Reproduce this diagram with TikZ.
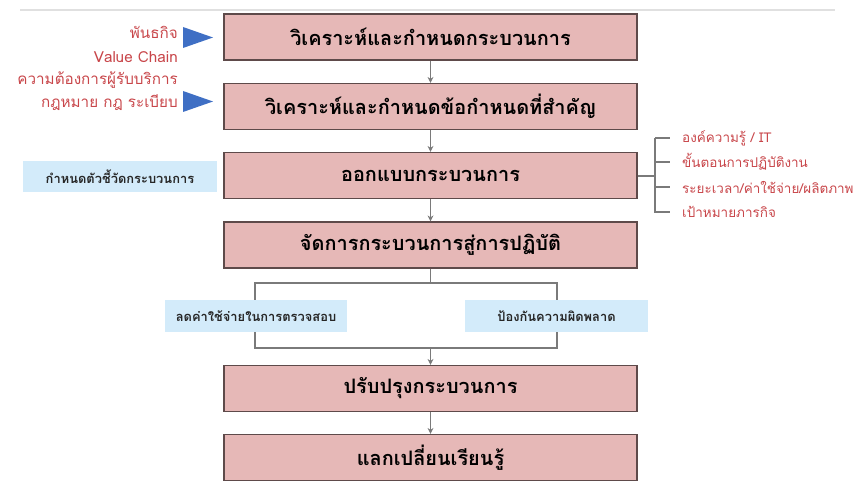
\documentclass[tikz,border=0pt]{standalone}
\usepackage{fontspec}
\setmainfont[Script=Thai]{Loma}
\usetikzlibrary{arrows.meta}

\definecolor{boxpink}{HTML}{E6B8B7}
\definecolor{boxline}{HTML}{5E4A4A}
\definecolor{notered}{HTML}{C8464A}
\definecolor{noteblue}{HTML}{D3EBFA}
\definecolor{tri}{HTML}{3F6FC4}
\definecolor{flowgray}{HTML}{7A7A7A}

\begin{document}
\begin{tikzpicture}[x=0.03cm, y=-0.03cm,
    stepbox/.style={draw=boxline, line width=1.2pt, fill=boxpink, minimum width=12.39cm,
        minimum height=1.38cm, inner sep=0pt, font=\fontsize{17}{19}\selectfont\bfseries},
    notebox/.style={fill=noteblue, minimum height=0.95cm, inner sep=0pt,
        font=\fontsize{11}{13}\selectfont\bfseries, text=black!85},
    redtext/.style={text=notered, inner sep=0pt, font=\fontsize{11.5}{13}\selectfont},
    flow/.style={draw=flowgray, line width=1pt, -{Stealth[length=5pt, width=5pt]}},
    link/.style={draw=flowgray, line width=1pt}]

    % the frame
    \useasboundingbox (0,0) rectangle (854,486);
    \draw[line width=2pt, black!12] (20,10) -- (835,10);

    % the body
    \foreach \n/\y/\t in {1/37/วิเคราะห์และกำหนดกระบวนการ,
                          2/106.5/วิเคราะห์และกำหนดข้อกำหนดที่สำคัญ,
                          3/175.5/ออกแบบกระบวนการ,
                          4/245/จัดการกระบวนการสู่การปฏิบัติ,
                          5/388.5/ปรับปรุงกระบวนการ,
                          6/457.5/แลกเปลี่ยนเรียนรู้} {
        \node[stepbox] (s\n) at (430.5, \y) {\t};
    }
    \foreach \i/\j in {1/2, 2/3, 3/4, 5/6} {
        \draw[flow] (s\i.south) -- (s\j.north);
    }

    % inputs
    \node[redtext, anchor=east, font=\fontsize{13}{15}\selectfont] (in1) at (178, 32) {พันธกิจ};
    \node[redtext, anchor=east, font=\fontsize{13}{15}\selectfont] (in2) at (178, 57) {Value Chain};
    \node[redtext, anchor=east, font=\fontsize{13}{15}\selectfont] (in3) at (178, 80) {ความต้องการผู้รับบริการ};
    \node[redtext, anchor=east, font=\fontsize{13}{15}\selectfont] (in4) at (178, 103) {กฎหมาย กฎ ระเบียบ};
    \fill[tri] (183, 27) -- (213, 37.5) -- (183, 48) -- cycle;
    \fill[tri] (183, 91) -- (213, 101.5) -- (183, 112) -- cycle;

    % indicators
    \node[notebox, minimum width=5.82cm] (kpi) at (120, 176.5) {กำหนดตัวชี้วัดกระบวนการ};

    % design items
    \coordinate (brace) at (655, 176);
    \draw[link] (s3.east |- brace) -- (brace);
    \draw[link] (655, 138) -- (655, 213);
    \node[redtext, anchor=west] (d1) at (682, 138) {องค์ความรู้ / IT};
    \node[redtext, anchor=west] (d2) at (682, 162) {ขั้นตอนการปฏิบัติงาน};
    \node[redtext, anchor=west] (d3) at (682, 187) {ระยะเวลา/ค่าใช้จ่าย/ผลิตภาพ};
    \node[redtext, anchor=west] (d4) at (682, 212) {เป้าหมายภารกิจ};
    \foreach \i in {1,...,4} {
        \draw[link] (brace |- d\i) -- ([xshift=-0.36cm]d\i.west);
    }

    % benefits
    \coordinate (split) at (430.5, 283);
    \coordinate (merge) at (430.5, 348);
    \draw[link] (s4.south) -- (split);
    \draw[link] (255, 283) rectangle (557, 348);
    \draw[flow] (merge) -- (s5.north);
    \node[notebox, minimum width=5.46cm] (cost) at (256, 316) {ลดค่าใช้จ่ายในการตรวจสอบ};
    \node[notebox, minimum width=5.49cm] (safe) at (556.5, 316) {ป้องกันความผิดพลาด};

\end{tikzpicture}
\end{document}
